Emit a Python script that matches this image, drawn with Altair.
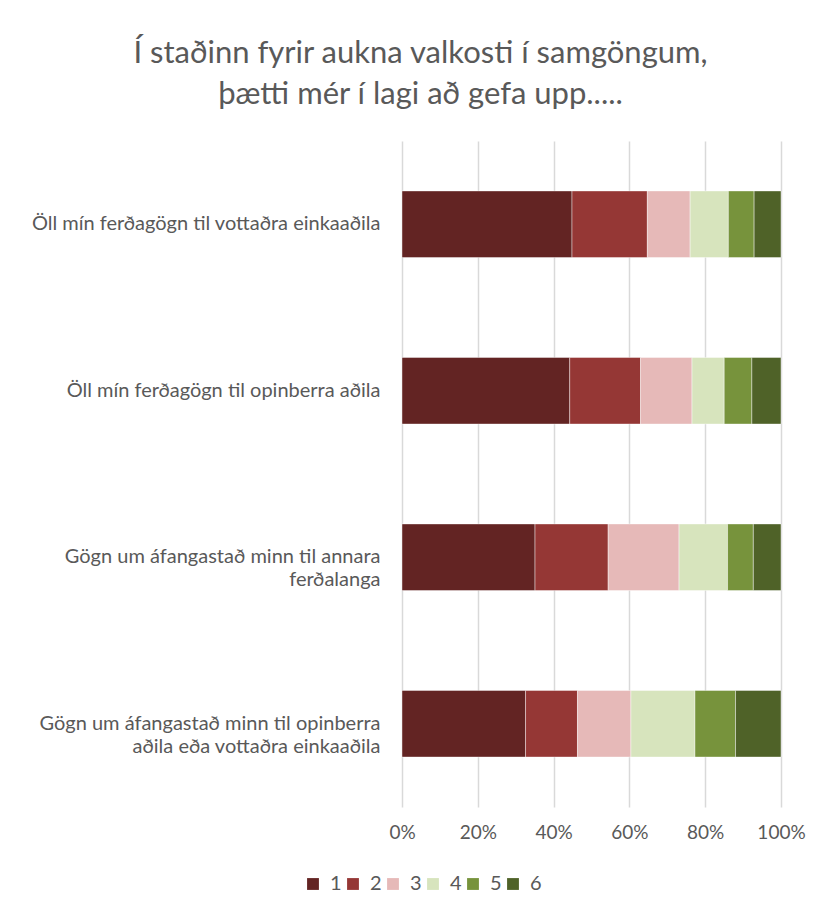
import altair as alt
import pandas as pd

categories = [
    "Öll mín ferðagögn til vottaðra einkaaðila",
    "Öll mín ferðagögn til opinberra aðila",
    "Gögn um áfangastað minn til annara|ferðalanga",
    "Gögn um áfangastað minn til opinberra|aðila eða vottaðra einkaaðila",
]
levels = ["1", "2", "3", "4", "5", "6"]
colors = ["#632423", "#953735", "#E6B9B8", "#D7E4BD", "#77933C", "#4F6228"]

v1 = [44.9, 44.3, 35.1, 32.6]
v2 = [19.9, 18.7, 19.3, 13.7]
v3 = [11.3, 13.6, 18.7, 14.1]
v4 = [10.1, 8.5, 12.8, 16.9]
v5 = [6.8, 7.3, 6.8, 10.7]
v6 = [7.1, 7.7, 7.3, 12.0]
series = [v1, v2, v3, v4, v5, v6]

rows = []
for li, (lev, vals) in enumerate(zip(levels, series)):
    for c, v in zip(categories, vals):
        rows.append({"cat": c, "level": lev, "order": li, "value": v})
df = pd.DataFrame(rows)

FONT = "Lato"
GRAY = "#595959"

chart = (
    alt.Chart(df)
    .mark_bar(stroke="white", strokeWidth=0.6, strokeOpacity=0.7)
    .encode(
        x=alt.X(
            "value:Q",
            stack="normalize",
            scale=alt.Scale(domain=[0, 1]),
            axis=alt.Axis(
                format=".0%",
                values=[0, 0.2, 0.4, 0.6, 0.8, 1.0],
                title=None,
                domain=False,
                ticks=False,
                labelFlush=False,
                labelPadding=16,
                labelFontSize=19,
                labelColor=GRAY,
                labelFont=FONT,
                gridColor="#d9d9d9",
                gridWidth=1.5,
            ),
        ),
        y=alt.Y(
            "cat:N",
            sort=categories,
            scale=alt.Scale(paddingInner=0.6, paddingOuter=0.3),
            axis=alt.Axis(
                title=None,
                domain=False,
                ticks=False,
                grid=False,
                labelExpr="split(datum.label, '|')",
                labelLineHeight=23,
                labelPadding=22,
                labelLimit=420,
                labelFontSize=20,
                labelColor=GRAY,
                labelFont=FONT,
            ),
        ),
        color=alt.Color(
            "level:N",
            scale=alt.Scale(domain=levels, range=colors),
            legend=alt.Legend(
                title=None,
                orient="none",
                direction="horizontal",
                legendX=-99,
                legendY=733,
                symbolType="square",
                symbolSize=140,
                symbolStrokeWidth=0,
                labelFontSize=20,
                labelColor=GRAY,
                labelFont=FONT,
                labelOffset=7,
                columnPadding=1,
            ),
        ),
        order=alt.Order("order:Q", sort="ascending"),
    )
    .properties(
        width=379,
        height=666,
        autosize="none",
        padding={"left": 394, "top": 133, "right": 31, "bottom": 99},
        title=alt.Title(
            text=["Í staðinn fyrir aukna valkosti í samgöngum,", "þætti mér í lagi að gefa upp....."],
            anchor="middle",
            frame="group",
            dx=-171,
            offset=30,
            fontSize=31,
            fontWeight="normal",
            font=FONT,
            color=GRAY,
            lineHeight=41,
        ),
    )
    .configure_view(stroke=None)
)

chart.save("out.html", embed_options={"renderer": "svg", "actions": False})
